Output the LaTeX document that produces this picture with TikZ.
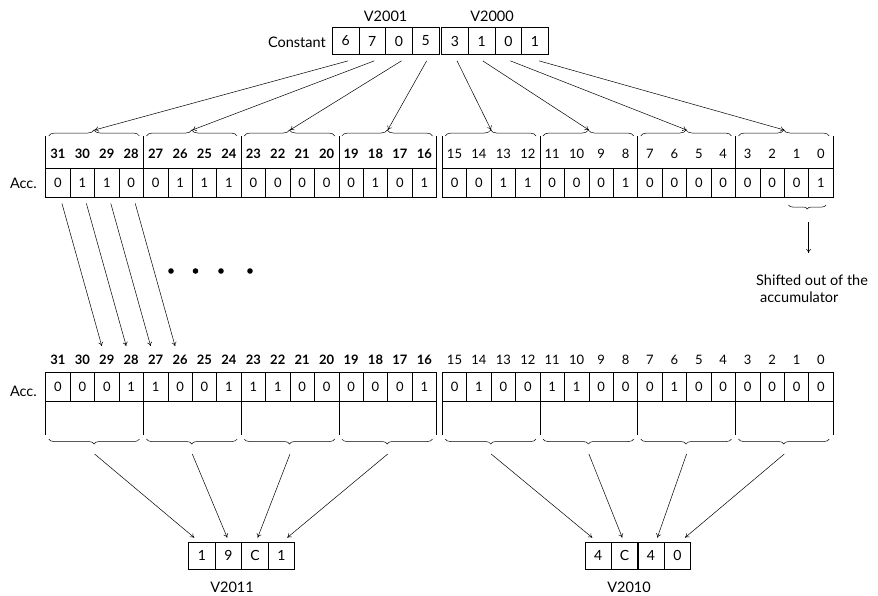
\documentclass[tikz,border=0pt]{standalone}
\usepackage{fontspec}
\setmainfont{Lato}
\usetikzlibrary{arrows.meta,calc,positioning,decorations.pathreplacing}

\tikzset{
  cell/.style={draw,line width=0.7pt,minimum width=24.43pt,minimum height=29pt,inner sep=0pt,font=\fontsize{13}{15}\selectfont},
  hexcell/.style={draw,line width=0.7pt,minimum width=26.6pt,minimum height=27pt,inner sep=0pt,font=\fontsize{14}{16}\selectfont},
  bitno/.style={inner sep=0pt,font=\fontsize{13}{15}\selectfont},
  lbl/.style={inner sep=0pt,font=\fontsize{14.5}{17}\selectfont},
  frame/.style={line width=0.7pt},
  upbrace/.style={decorate,decoration={brace,amplitude=6pt},line width=0.5pt},
  downbrace/.style={decorate,decoration={brace,mirror,amplitude=5pt},line width=0.5pt},
  conn/.style={-{To[length=4pt,width=5pt]},line width=0.5pt},
}

\begin{document}
\begin{tikzpicture}[x=1pt,y=-1pt]
  \useasboundingbox (0,0) rectangle (878,595);

  % constant words
  \foreach \v [count=\i] in {6,7,0,5,3,1,0,1}{
    \pgfmathsetmacro\cx{\i<5 ? 332.3+(\i-0.5)*26.67 : 441.7+(\i-4.5)*26.67}
    \node[hexcell] (k\i) at (\cx,41) {\v};
  }
  \node[lbl] (v2001) at (385.6,16.5) {V2001};
  \node[lbl] (v2000) at (492,16.5) {V2000};
  \node[lbl,anchor=east] (const) at (326,42) {Constant};

  % accumulator before the shift
  \foreach \v [count=\i from 0] in {0,1,1,0,0,1,1,1,0,0,0,0,0,1,0,1,0,0,1,1,0,0,0,1,0,0,0,0,0,0,0,1}{
    \pgfmathtruncatemacro\b{31-\i}
    \pgfmathsetmacro\cx{\i<16 ? 45.7+(\i+0.5)*24.43 : 442.3+(\i-15.5)*24.43}
    \node[cell] (ta\b) at (\cx,182.5) {\v};
    \node[bitno] (tn\b) at (\cx,154) {\ifnum\b>15 \bfseries\fi\b};
  }
  \node[lbl,anchor=east] (acc1) at (37,183) {Acc.};
  \foreach \k in {0,...,4}{
    \draw[frame] (45.7+97.72*\k,136) -- ++(0,32);
    \draw[frame] (442.3+97.72*\k,136) -- ++(0,32);
  }
  \foreach \g in {0,...,3}{
    \draw[upbrace] (48.7+97.72*\g,136) -- (139.4+97.72*\g,136);
    \draw[upbrace] (445.3+97.72*\g,136) -- (536+97.72*\g,136);
  }
  \foreach \g in {1,...,4}{
    \coordinate (tb\g) at (45.7+97.72*\g-48.86,130);
    \pgfmathtruncatemacro\h{\g+4}
    \coordinate (tb\h) at (442.3+97.72*\g-48.86,130);
  }
  \foreach \i/\dx in {1/2.5,2/2,3/2.5,4/1,5/2,6/1,7/2,8/4}
    \draw[conn] ([shift={(\dx,6)}]k\i.south) -- (tb\i);

  % bits shifted out
  \draw[downbrace,decoration={amplitude=4pt}] (788.5,205) -- (826,205);
  \coordinate (sh1) at (808.6,222);
  \coordinate (sh2) at (808.6,253);
  \draw[conn] (sh1) -- (sh2);
  \node[lbl,anchor=north west,align=left] (shifted) at (756,275) {Shifted out of the\\\hspace{4pt}accumulator};

  % accumulator after the shift
  \foreach \v [count=\i from 0] in {0,0,0,1,1,0,0,1,1,1,0,0,0,0,0,1,0,1,0,0,1,1,0,0,0,1,0,0,0,0,0,0}{
    \pgfmathtruncatemacro\b{31-\i}
    \pgfmathsetmacro\cx{\i<16 ? 45.7+(\i+0.5)*24.43 : 442.3+(\i-15.5)*24.43}
    \node[cell] (ba\b) at (\cx,387) {\v};
    \node[bitno] (bn\b) at (\cx,360) {\ifnum\b>15 \bfseries\fi\b};
  }
  \node[lbl,anchor=east] (acc2) at (37,391) {Acc.};
  \foreach \k in {0,...,4}{
    \draw[frame] (45.7+97.72*\k,401.5) -- (45.7+97.72*\k,435);
    \draw[frame] (442.3+97.72*\k,401.5) -- (442.3+97.72*\k,435);
  }
  \foreach \g in {0,...,3}{
    \draw[downbrace] (48.7+97.72*\g,439) -- (139.4+97.72*\g,439);
    \draw[downbrace] (445.3+97.72*\g,439) -- (536+97.72*\g,439);
  }
  \foreach \g in {1,...,4}{
    \coordinate (bb\g) at (45.7+97.72*\g-48.86,454);
    \pgfmathtruncatemacro\h{\g+4}
    \coordinate (bb\h) at (442.3+97.72*\g-48.86,454);
  }

  % shift arrows
  \foreach \s/\e in {31/29,30/28,29/27,28/26}
    \draw[conn] ([shift={(4,6)}]ta\s.south) -- ([shift={(-5,-14)}]bn\e.center);
  \foreach \x in {171,195.5,221,250}
    \fill (\x,271) circle (2.8pt);

  % result words
  \foreach \v [count=\i] in {1,9,C,1}
    \node[hexcell] (p\i) at (188.7+26.5*\i-13.25,555.5) {\v};
  \foreach \v [count=\i] in {4,C,4,0}
    \node[hexcell] (q\i) at (585+26.4*\i-13.2,555.5) {\v};
  \node[lbl] (v2011) at (232,587) {V2011};
  \node[lbl] (v2010) at (629,587) {V2010};
  \foreach \i/\dx in {1/-7.7,2/-1.2,3/2.7,4/5.8}
    \draw[conn] (bb\i) -- ([shift={(\dx,-4)}]p\i.north);
  \foreach \i/\dx in {1/-5.9,2/-2.3,3/6.3,4/7.6}{
    \pgfmathtruncatemacro\h{\i+4}
    \draw[conn] (bb\h) -- ([shift={(\dx,-4)}]q\i.north);
  }
\end{tikzpicture}
\end{document}
